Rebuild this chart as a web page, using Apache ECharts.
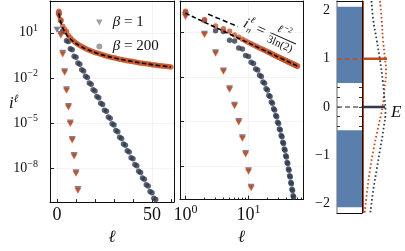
<!DOCTYPE html>
<html><head><meta charset="utf-8">
<script src="https://cdn.jsdelivr.net/npm/echarts@6/dist/echarts.min.js"></script>
<style>html,body{margin:0;padding:0;background:#fff}#c{width:405px;height:251px}</style>
</head><body><div id="c"></div>
<script>
// ---------- data ----------
const ells = [1,2,3,4,5,6,7,8,9,10,11,12,13,14,15,16,17,18,19,20,21,22,23,24,25,26,27,28,29,30,
  31,32,33,34,35,36,37,38,39,40,41,42,43,44,45,46,47,48,49,50,51,52,53,54,55,56,57,58,59,60];
// orange model, beta = 200 (power law)
const orangeCircles = [269,74.1,26.9,17.4,12.0,6.76,4.79,3.47,2.69,2.14,1.74,1.45,1.23,1.05,0.912,0.794,0.708,0.631,0.562,0.501,
  0.457,0.417,0.380,0.347,0.316,0.295,0.272,0.251,0.234,0.219,0.204,0.191,0.178,0.170,0.158,0.151,0.141,0.135,0.129,0.123,
  0.115,0.110,0.105,0.100,0.0955,0.0912,0.0871,0.0851,0.0813,0.0776,0.0741,0.0724,0.0692,0.0661,0.0646,0.0617,0.0603,0.0575,0.0562,0.0537];
// dark model, beta = 200 (exponential)
const darkCircles = [224,63.1,13.2,11.7,2.95,2.63,0.891,0.759,0.282,0.240,0.100,0.0832,0.0355,0.0295,0.0132,0.0110,4.68e-3,3.89e-3,1.66e-3,1.38e-3,
  5.89e-4,4.90e-4,2.09e-4,1.74e-4,7.41e-5,6.17e-5,2.63e-5,2.19e-5,9.33e-6,7.76e-6,3.31e-6,2.75e-6,1.17e-6,9.77e-7,4.17e-7,3.47e-7,1.48e-7,1.23e-7,5.25e-8,4.37e-8,
  1.86e-8,1.55e-8,6.61e-9,5.50e-9,2.34e-9,1.95e-9,8.32e-10,6.92e-10,2.95e-10,2.45e-10,1.05e-10,8.71e-11];
// beta = 1 (triangles)
const orangeTriL = [1,2,3,4,5,6,7,8,9,10,11];
const orangeTriangles = [110,6.6,0.37,0.0224,1.41e-3,1.1e-4,8.9e-6,7.2e-7,6.3e-8,4.4e-9,3.4e-10];
const darkTriL = [0,1,2,3,4,5,6,7,8,9,10,11];
const darkTriangles   = [16,140,8.3,0.47,0.028,1.8e-3,1.4e-4,1.12e-5,9.1e-7,8.0e-8,5.6e-9,4.3e-10];
// fit line i = l^-2 / (3 ln 2) (scaled as drawn)
const fitL = [1,1.5,2,2.5,3,4,5,6,8,10,12,15,20,25,30,40,50,60];
const fitV = [195,86.7,48.8,31.2,21.7,12.2,7.8,5.42,3.05,1.95,1.35,0.867,0.488,0.312,0.217,0.122,0.078,0.054];
const annotL = [2.28, 6.8];
const annotV = [170, 24.5];
// tick values
const yTickVals = [10, 1e-2, 1e-5, 1e-8];
const linXTicks = [0,10,20,30,40,50,60];
const linXLabels = [0,50];
const logXMajor = [1,10];
const logXMinor = [2,3,4,5,6,7,8,9,20,30,40,50,60,70];
const eTicks = [-2,-1.8,-1.6,-1.4,-1.2,-1,-0.8,-0.6,-0.4,-0.2,0,0.2,0.4,0.6,0.8,1,1.2,1.4,1.6,1.8,2];
const eLabels = [-2,-1,0,1,2];
// spectrum panel
const bands = [[0.5, 2.08], [-2.08, -0.48]];
const levelE = [1, 0];
const levelWeight = [24, 22];
const orangeDosE = [2.2,1.8,1.4,1.0,0.76,0.35,0.0,-0.48,-0.89,-1.3,-1.72,-2.2];
const orangeDosX = [17,18.7,20,22,23,21.3,19.5,14.5,10.5,7,4.3,1.6];
const darkDosE = [2.2,1.8,1.39,0.97,0.55,0.2,-0.06,-0.48,-0.89,-1.3,-1.72,-2.2];
const darkDosX = [8.5,10.3,13.7,17,19.7,21.3,22.5,20.3,17,13.7,10.3,7.3];

// ---------- style ----------
const SERIF = 'Liberation Serif';
const ORANGE = '#c2491c', DARK = '#2f3a4e', BLUE = '#5b7fad', TXT = '#111', FRAME = '#111';
const grid = (l,w) => ({left:l, top:1, width:w, height:212, show:false});
const pairs = (xs, ys) => ys.map((v,i)=>[xs[i], v]);
const supFmt = v => { const e = Math.round(Math.log10(v)); return '{b|10}{s|' + (e<0 ? '\u2212'+(-e) : e) + '}'; };
const richY = {b:{fontFamily:SERIF,fontSize:14,color:TXT}, s:{fontFamily:SERIF,fontSize:10,color:TXT,padding:[0,0,9,0]}};
const richX = {b:{fontFamily:SERIF,fontSize:18,color:TXT}, s:{fontFamily:SERIF,fontSize:12,color:TXT,padding:[0,0,11,0]}};
const gridLine = {show:true, lineStyle:{color:'#e2e2e2', type:'dotted', width:0.8}};
const frameLine = {show:true, onZero:false, lineStyle:{color:FRAME, width:1}};
const yMin = 5.9e-11, yMax = 1.29e3;
const xName = {name:'\u2113', nameLocation:'middle', nameGap:19, nameTextStyle:{fontFamily:SERIF, fontStyle:'italic', fontSize:17, color:TXT}};

const dataSeries = [];
function addBoth(mk) {
  dataSeries.push(mk(0, 0, true));
  const s = mk(2, 1, false);
  s.data = s.data.filter(p => p[0] > 0);   // log axis cannot show l = 0
  dataSeries.push(s);
}
addBoth((xi, yi) => ({type:'scatter', xAxisIndex:xi, yAxisIndex:yi, symbol:'circle', symbolSize:5.5,
  itemStyle:{color:DARK}, data:pairs(ells, darkCircles), z:2}));
addBoth((xi, yi) => ({type:'scatter', xAxisIndex:xi, yAxisIndex:yi, symbol:'triangle', symbolRotate:180, symbolSize:[7,6],
  itemStyle:{color:'#5c6272'}, data:pairs(darkTriL, darkTriangles), z:3}));
addBoth((xi, yi) => ({type:'scatter', xAxisIndex:xi, yAxisIndex:yi, symbol:'triangle', symbolRotate:180, symbolSize:[7,6],
  itemStyle:{color:ORANGE}, data:pairs(orangeTriL, orangeTriangles), z:4}));
addBoth((xi, yi) => ({type:'scatter', xAxisIndex:xi, yAxisIndex:yi, symbol:'circle', symbolSize:5.5,
  itemStyle:{color:'#c9552a'}, data:pairs(ells, orangeCircles), z:5}));
addBoth((xi, yi, lin) => ({type:'line', xAxisIndex:xi, yAxisIndex:yi, symbol:'none', smooth: lin ? 0.4 : false,
  lineStyle:{color:'#000', width:1.6, type:[4.5,2.5]}, data:pairs(fitL, fitV), z:6}));

const option = {
  animation:false,
  backgroundColor:'#fff',
  grid:[ grid(50,124), grid(180,123), grid(337,25), grid(363,42) ],
  legend:{
    orient:'vertical', left:91, top:10, itemWidth:7, itemHeight:6, itemGap:9,
    data:[{name:'b1', icon:'path://M0,0L10,0L5,9Z'}, {name:'b200', icon:'circle'}],
    formatter: n => n==='b1' ? '{i|\u03b2} = 1' : '{i|\u03b2} = 200',
    textStyle:{fontFamily:SERIF, fontSize:15, color:TXT, padding:[0,0,0,5],
      rich:{i:{fontFamily:SERIF, fontStyle:'italic', fontSize:15, color:TXT}}}
  },
  xAxis:[
    Object.assign({gridIndex:0, type:'value', min:-3.7, max:61.6, axisLine:frameLine,
     axisTick:{inside:true, length:3, customValues:linXTicks, lineStyle:{color:'#222'}},
     axisLabel:{customValues:linXLabels, margin:4, fontFamily:SERIF, fontSize:18, color:TXT},
     splitLine:{show:false}}, xName),
    {gridIndex:0, type:'value', position:'top', min:-3.7, max:61.6, axisLine:frameLine,
     axisTick:{show:false, customValues:linXLabels}, axisLabel:{show:false}, splitLine:gridLine},
    Object.assign({gridIndex:1, type:'log', logBase:10, min:0.818, max:73.3, axisLine:frameLine,
     axisTick:{inside:true, length:4, customValues:logXMajor, lineStyle:{color:'#222'}},
     axisLabel:{customValues:logXMajor, margin:4, formatter:supFmt, rich:richX},
     splitLine:gridLine}, xName),
    {gridIndex:1, type:'log', logBase:10, position:'bottom', min:0.818, max:73.3, axisLine:{show:false},
     axisTick:{inside:true, length:2, customValues:logXMinor, lineStyle:{color:'#222'}}, axisLabel:{show:false}, splitLine:{show:false}},
    {gridIndex:2, type:'value', min:0, max:1, axisLine:frameLine, axisTick:{show:false}, axisLabel:{show:false}, splitLine:{show:false}},
    {gridIndex:3, type:'value', min:0, max:42, show:false},
    {gridIndex:1, type:'log', logBase:10, position:'top', min:0.818, max:73.3, axisLine:frameLine,
     axisTick:{show:false}, axisLabel:{show:false}, splitLine:{show:false}},
    {gridIndex:2, type:'value', position:'top', min:0, max:1, axisLine:frameLine, axisTick:{show:false}, axisLabel:{show:false}, splitLine:{show:false}}
  ],
  yAxis:[
    {gridIndex:0, type:'log', logBase:10, min:yMin, max:yMax, axisLine:frameLine,
     axisTick:{inside:true, length:4, customValues:yTickVals, lineStyle:{color:'#222'}},
     axisLabel:{customValues:yTickVals, margin:12, formatter:supFmt, rich:richY},
     splitLine:gridLine},
    {gridIndex:1, type:'log', logBase:10, min:yMin, max:yMax, axisLine:frameLine,
     axisTick:{inside:true, length:4, customValues:yTickVals, lineStyle:{color:'#222'}},
     axisLabel:{show:false}, splitLine:gridLine},
    {gridIndex:2, type:'value', min:-2.2, max:2.2, axisLine:{show:true, onZero:false, lineStyle:{color:'#999', width:1.5}},
     axisTick:{inside:true, length:3, customValues:eTicks, lineStyle:{color:'#333'}},
     axisLabel:{customValues:eLabels, margin:7, fontFamily:SERIF, fontSize:14, color:TXT,
       formatter: v => v<0 ? '\u2212'+(-v) : String(v)},
     splitLine:{show:false}},
    {gridIndex:2, type:'value', position:'right', min:-2.2, max:2.2, axisLine:frameLine,
     axisTick:{inside:true, length:3, customValues:eTicks, lineStyle:{color:'#333'}},
     axisLabel:{show:false}, splitLine:{show:false}},
    {gridIndex:3, type:'value', min:-2.2, max:2.2, show:false},
    {gridIndex:0, type:'log', logBase:10, position:'right', min:yMin, max:yMax, axisLine:frameLine,
     axisTick:{show:false}, axisLabel:{show:false}, splitLine:{show:false}},
    {gridIndex:1, type:'log', logBase:10, position:'right', min:yMin, max:yMax, axisLine:frameLine,
     axisTick:{show:false}, axisLabel:{show:false}, splitLine:{show:false}}
  ],
  series: dataSeries.concat([
    {name:'b1', type:'scatter', xAxisIndex:0, yAxisIndex:0, data:[], itemStyle:{color:'#8a8a8a'}},
    {name:'b200', type:'scatter', xAxisIndex:0, yAxisIndex:0, data:[], itemStyle:{color:'#8a8a8a'}},
    {type:'line', xAxisIndex:2, yAxisIndex:1, symbol:'none', lineStyle:{color:'#000', width:1.5, type:[5,3]},
     data:pairs(annotL, annotV), z:6},
    {type:'line', xAxisIndex:4, yAxisIndex:2, symbol:'none', lineStyle:{opacity:0}, data:[[0.5,0]],
     markArea:{silent:true, itemStyle:{color:BLUE}, data: bands.map(b => [{yAxis:b[0]},{yAxis:b[1]}])},
     markLine:{silent:true, symbol:'none', label:{show:false},
       data:[{yAxis:levelE[0], lineStyle:{color:ORANGE, type:[5,3], width:1.5}},
             {yAxis:levelE[1], lineStyle:{color:'#666', type:[5,3], width:1.5}}]}},
    {type:'line', xAxisIndex:5, yAxisIndex:4, symbol:'none', lineStyle:{color:ORANGE, width:1}, data:[[0.5,-2.2],[0.5,2.2]]},
    {type:'line', xAxisIndex:5, yAxisIndex:4, symbol:'none', lineStyle:{color:ORANGE, width:2.5}, data:[[0,levelE[0]],[levelWeight[0],levelE[0]]]},
    {type:'line', xAxisIndex:5, yAxisIndex:4, symbol:'none', lineStyle:{color:DARK, width:2.5}, data:[[0,levelE[1]],[levelWeight[1],levelE[1]]]},
    {type:'line', xAxisIndex:5, yAxisIndex:4, symbol:'none', smooth:true, lineStyle:{color:ORANGE, width:1.8, type:[1.6,2.4]}, data:pairs(orangeDosX, orangeDosE)},
    {type:'line', xAxisIndex:5, yAxisIndex:4, symbol:'none', smooth:true, lineStyle:{color:DARK, width:1.8, type:[1.6,2.4]}, data:pairs(darkDosX, darkDosE)}
  ]),
  graphic:[
    {type:'text', left:9, top:94, style:{text:'{i|i}{s|\u2113}', rich:{
      i:{fontFamily:SERIF, fontStyle:'italic', fontSize:17, fill:TXT},
      s:{fontFamily:SERIF, fontStyle:'italic', fontSize:11, fill:TXT, padding:[0,0,9,0]}}}},
    {type:'text', left:391, top:104, style:{text:'E', fontFamily:SERIF, fontStyle:'italic', fontSize:17, fill:TXT}},
    {type:'group', x:244, y:23, rotation:-0.42, z:10, children:[
      {type:'text', x:0, y:0, style:{text:'i', fontFamily:SERIF, fontStyle:'italic', fontSize:15, fill:TXT, verticalAlign:'middle'}},
      {type:'text', x:5, y:-6, style:{text:'\u2113', fontFamily:SERIF, fontStyle:'italic', fontSize:9, fill:TXT, verticalAlign:'middle'}},
      {type:'text', x:5, y:5, style:{text:'n', fontFamily:SERIF, fontStyle:'italic', fontSize:9, fill:TXT, verticalAlign:'middle'}},
      {type:'text', x:14, y:0, style:{text:'=', fontFamily:SERIF, fontSize:16, fill:TXT, verticalAlign:'middle'}},
      {type:'text', x:33, y:-9, style:{text:'\u2113', fontFamily:SERIF, fontStyle:'italic', fontSize:11, fill:TXT, verticalAlign:'middle'}},
      {type:'text', x:39, y:-12, style:{text:'\u22122', fontFamily:SERIF, fontSize:8, fill:TXT, verticalAlign:'middle'}},
      {type:'line', shape:{x1:28, y1:-2, x2:56, y2:-2}, style:{stroke:TXT, lineWidth:1}},
      {type:'text', x:28, y:5, style:{text:'3ln(2)', fontFamily:SERIF, fontSize:11, fill:TXT, verticalAlign:'middle'}}
    ]}
  ]
};
const chart = echarts.init(document.getElementById('c'), null, {renderer:'canvas'});
chart.setOption(option);
</script></body></html>
